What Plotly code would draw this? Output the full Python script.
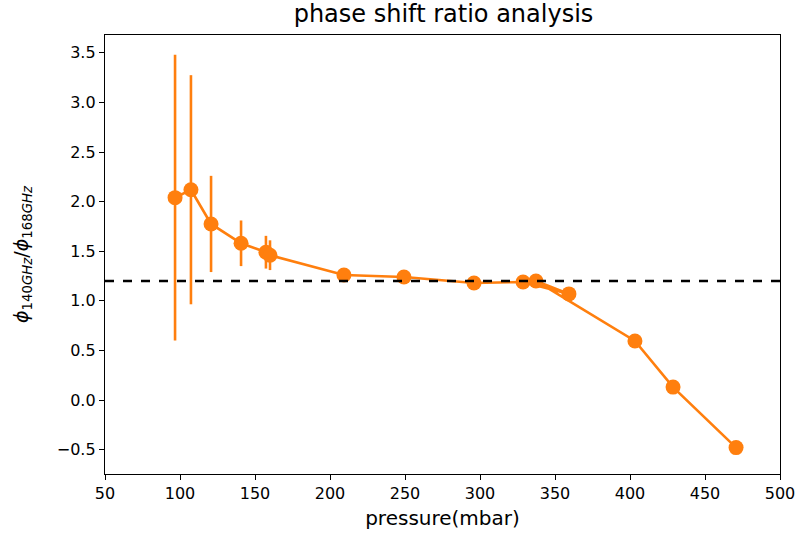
import plotly.graph_objects as go

pressure = [96.7, 107.3, 120.7, 140.7, 157.3, 160.0, 209.3, 249.3, 296.0, 328.7, 359.3, 337.3, 403.3, 428.7, 470.7]
ratio = [2.04, 2.12, 1.775, 1.58, 1.49, 1.46, 1.26, 1.24, 1.18, 1.19, 1.07, 1.20, 0.595, 0.13, -0.48]
ratio_err = [1.44, 1.155, 0.485, 0.23, 0.165, 0.15, 0.05, 0.02, 0.01, 0.01, 0.01, 0.01, 0.01, 0.01, 0.01]
reference_level = 1.2

color = "#ff7f0e"
font_family = "DejaVu Sans"

fig = go.Figure()
fig.add_trace(go.Scatter(
    x=pressure, y=ratio,
    mode="lines+markers",
    line=dict(color=color, width=2.6),
    marker=dict(color=color, size=15),
    error_y=dict(type="data", array=ratio_err, visible=True, color=color, thickness=2.6, width=0),
    showlegend=False,
))
fig.add_shape(type="line", xref="paper", x0=0, x1=1, yref="y", y0=reference_level, y1=reference_level,
              line=dict(color="black", width=2.6, dash="dash"))

axis_common = dict(showline=True, linecolor="black", linewidth=1.3, mirror=True, automargin=False,
                   ticks="outside", ticklen=5, tickcolor="black", showgrid=False, zeroline=False,
                   tickfont=dict(size=16, color="black", family=font_family))

fig.update_layout(
    width=802, height=542,
    margin=dict(l=105, r=22, t=35, b=68),
    plot_bgcolor="white", paper_bgcolor="white",
    font=dict(family=font_family, color="black"),
    title=dict(text="phase shift ratio analysis", x=0.553, xanchor="center", y=0.99, yanchor="top",
               font=dict(size=24, color="black", family=font_family)),
    xaxis=dict(range=[50, 500], tickvals=[50, 100, 150, 200, 250, 300, 350, 400, 450, 500],
               title=dict(text="pressure(mbar)", font=dict(size=20), standoff=8), **axis_common),
    yaxis=dict(range=[-0.746, 3.68], tickvals=[-0.5, 0.0, 0.5, 1.0, 1.5, 2.0, 2.5, 3.0, 3.5],
               tickformat=".1f",
               title=dict(text="<i>ϕ</i><sub>140<i>GHz</i></sub>/<i>ϕ</i><sub>168<i>GHz</i></sub>",
                          font=dict(size=19), standoff=23), **axis_common),
)

fig.write_html("out.html")
